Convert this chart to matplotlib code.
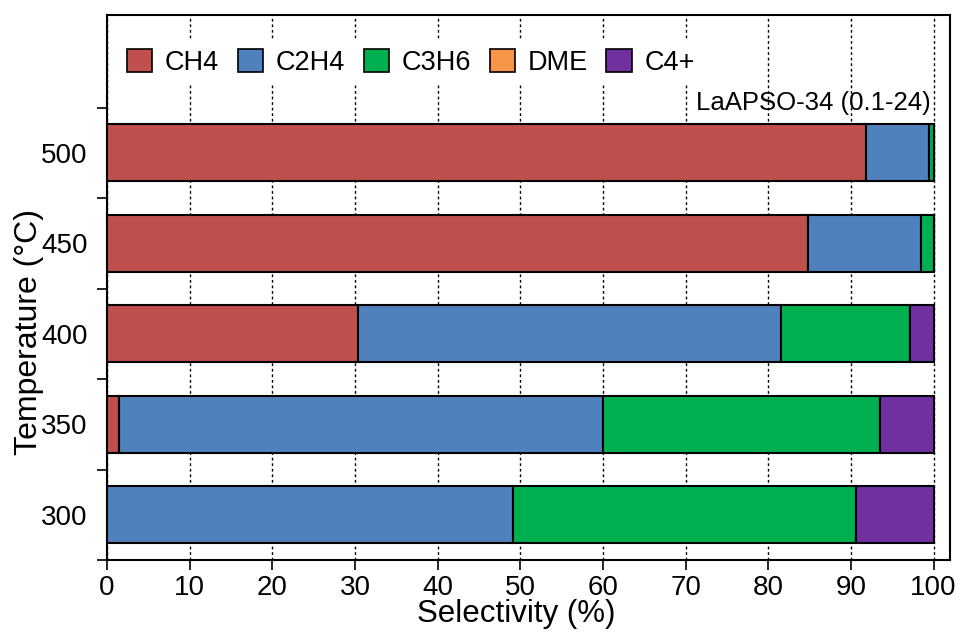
import numpy as np
import matplotlib.pyplot as plt

plt.rcParams['font.family'] = ['Liberation Sans', 'DejaVu Sans']

temps = ['300', '350', '400', '450', '500']
ch4 = [0.0, 1.45, 30.4, 84.8, 91.8]
c2h4 = [49.1, 58.55, 51.2, 13.7, 7.6]
c3h6 = [41.5, 33.5, 15.6, 1.5, 0.6]
dme = [0.0, 0.0, 0.0, 0.0, 0.0]
c4 = [9.4, 6.5, 2.8, 0.0, 0.0]

names = ['CH4', 'C2H4', 'C3H6', 'DME', 'C4+']
colors = ['#C0504D', '#4F81BD', '#00B050', '#F79646', '#7030A0']
series = [ch4, c2h4, c3h6, dme, c4]

fig = plt.figure(figsize=(9.57, 6.35), dpi=100)
ax = fig.add_axes([0.1118, 0.118, 0.881, 0.858])

y = np.arange(len(temps))
left = np.zeros(len(temps))
for vals, name, col in zip(series, names, colors):
    vals = np.array(vals)
    ax.barh(y, vals, left=left, height=0.63, color=col, edgecolor='black',
            linewidth=1.5, label=name, zorder=3)
    left += vals

ax.set_xlim(0, 102)
ax.set_ylim(-0.5, 5.52)
ax.set_xticks(np.arange(0, 101, 10))
ax.set_yticks(y)
ax.set_yticklabels(temps)
ax.set_yticks(np.arange(-0.5, 5.0, 1), minor=True)
ax.tick_params(axis='y', which='major', length=0, labelsize=20, pad=14)
ax.tick_params(axis='y', which='minor', length=7, width=1.2, direction='out')
ax.tick_params(axis='x', which='major', length=7, width=1.2, labelsize=20)
for s in ax.spines.values():
    s.set_linewidth(1.5)

ax.grid(axis='x', linestyle=(0, (2, 2)), color='black', linewidth=1.0, zorder=0)
ax.set_axisbelow(True)

ax.set_xlabel('Selectivity (%)', fontsize=22.5)
ax.xaxis.set_label_coords(0.485, -0.0716)
ax.set_ylabel('Temperature (°C)', fontsize=23)
ax.yaxis.set_label_coords(-0.0925, 0.418)
ax.yaxis.label.set_va('center')

leg = ax.legend(loc='center left', bbox_to_anchor=(0.014, 0.914), ncol=5, fontsize=19.5,
                frameon=True, handlelength=0.94, handleheight=0.94,
                handletextpad=0.47, columnspacing=0.68, borderpad=0.3,
                borderaxespad=0.0)
leg.get_frame().set_edgecolor('none')
leg.get_frame().set_facecolor('white')
leg.get_frame().set_alpha(1)
for h in leg.legend_handles:
    h.set_linewidth(1.2)

ax.text(99.6, 4.47, 'LaAPSO-34 (0.1-24)', ha='right', va='baseline', fontsize=18.5,
        zorder=4)

fig.savefig('out.png', dpi=100)
